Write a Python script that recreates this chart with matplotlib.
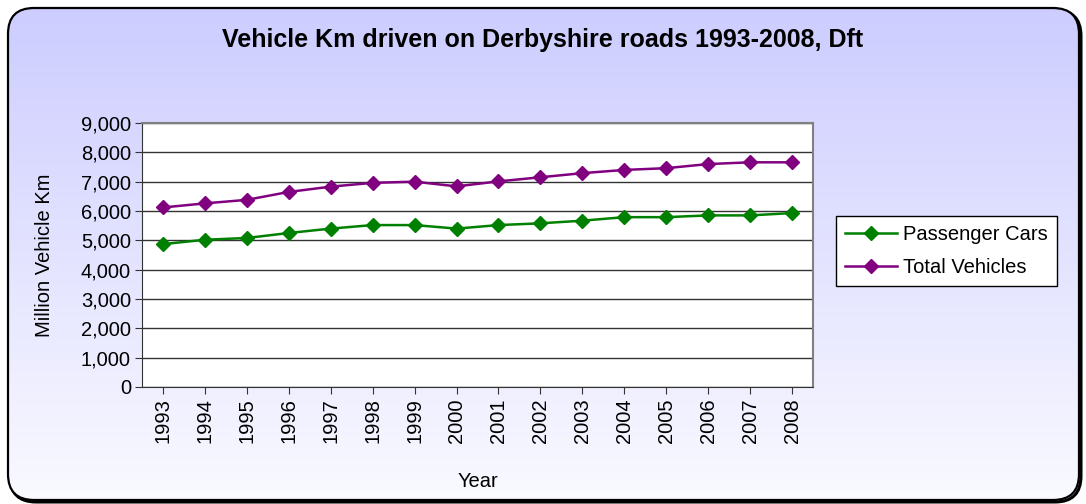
import matplotlib
matplotlib.use("Agg")
import matplotlib.pyplot as plt
import numpy as np
from matplotlib.patches import FancyBboxPatch

years = [str(y) for y in range(1993, 2009)]
passenger_cars = [4870, 5020, 5080, 5250, 5400, 5520, 5520, 5400, 5520, 5580, 5670, 5790, 5790, 5850, 5850, 5930]
total_vehicles = [6120, 6260, 6380, 6650, 6830, 6960, 7000, 6840, 7010, 7150, 7290, 7400, 7460, 7600, 7660, 7660]
yticks = list(range(0, 9001, 1000))

plt.rcParams['font.family'] = ['Liberation Sans', 'DejaVu Sans']

W, H = 1086, 504
fig = plt.figure(figsize=(W / 100, H / 100), dpi=100)

# background with gradient and rounded border
bg = fig.add_axes([0, 0, 1, 1])
bg.set_xlim(0, W)
bg.set_ylim(0, H)
bg.axis('off')
grad = np.linspace(0, 1, 256).reshape(-1, 1)
top = np.array([204, 204, 255]) / 255
bot = np.array([250, 250, 255]) / 255
img = bot + (top - bot) * grad ** 1.0
img = img.reshape(256, 1, 3)
bx, by, bw, bh = 8, 4, W - 15, H - 12
shadow = FancyBboxPatch((bx + 2, by - 2), bw, bh, boxstyle="round,pad=0,rounding_size=26",
                        facecolor='none', edgecolor='black', linewidth=2.2, zorder=1)
bg.add_patch(shadow)
im = bg.imshow(img, extent=[0, W, 0, H], origin='lower', aspect='auto', zorder=2)
box = FancyBboxPatch((bx, by), bw, bh, boxstyle="round,pad=0,rounding_size=26",
                     facecolor='none', edgecolor='black', linewidth=1.6, zorder=3)
bg.add_patch(box)
clip = FancyBboxPatch((bx, by), bw, bh, boxstyle="round,pad=0,rounding_size=26",
                      facecolor='none', edgecolor='none', transform=bg.transData)
bg.add_patch(clip)
im.set_clip_path(clip)

left, right, top_px, bottom_px = 142, 813, 123, 387
ax = fig.add_axes([left / W, 1 - bottom_px / H, (right - left) / W, (bottom_px - top_px) / H])
ax.set_facecolor('white')
x = np.arange(len(years))
ax.plot(x, passenger_cars, color='#008000', marker='D', markersize=7, linewidth=1.8, label='Passenger Cars')
ax.plot(x, total_vehicles, color='#800080', marker='D', markersize=7, linewidth=1.8, label='Total Vehicles')
ax.set_xlim(-0.5, len(years) - 0.5)
ax.set_ylim(0, 9000)
ax.set_yticks(yticks)
ax.set_yticklabels([f"{v:,}" for v in yticks], fontsize=14.5)
ax.set_xticks(x)
ax.set_xticklabels(years, rotation=90, fontsize=14.5)
ax.yaxis.grid(True, color='#333333', linewidth=1)
ax.set_axisbelow(True)
for s in ['top', 'right']:
    ax.spines[s].set_color('#808080')
    ax.spines[s].set_linewidth(1.5)
for s in ['left', 'bottom']:
    ax.spines[s].set_color('#333333')
ax.tick_params(axis='both', direction='out', length=5, color='#333333', pad=3)
ax.set_ylabel('Million Vehicle Km', fontsize=14.5)
ax.yaxis.set_label_coords((54 - left) / (right - left), 0.5)
ax.set_xlabel('Year', fontsize=14.5)
ax.xaxis.set_label_coords(0.5, (bottom_px - 472) / (bottom_px - top_px))

fig.text(0.5 * (224 + 862) / W, 1 - 40 / H, 'Vehicle Km driven on Derbyshire roads 1993-2008, Dft',
         ha='center', va='center', fontsize=18, fontweight='bold')

leg = ax.legend(loc='center left', bbox_to_anchor=((836 - left) / (right - left), (387 - 251) / (387 - 123)),
                frameon=True, fancybox=False, fontsize=14.5, handlelength=2.6, handletextpad=0.3,
                borderpad=0.45, labelspacing=0.7, borderaxespad=0)
leg.get_frame().set_edgecolor('black')
leg.get_frame().set_linewidth(1)
leg.get_frame().set_alpha(1)

fig.savefig('out.png', dpi=100)
